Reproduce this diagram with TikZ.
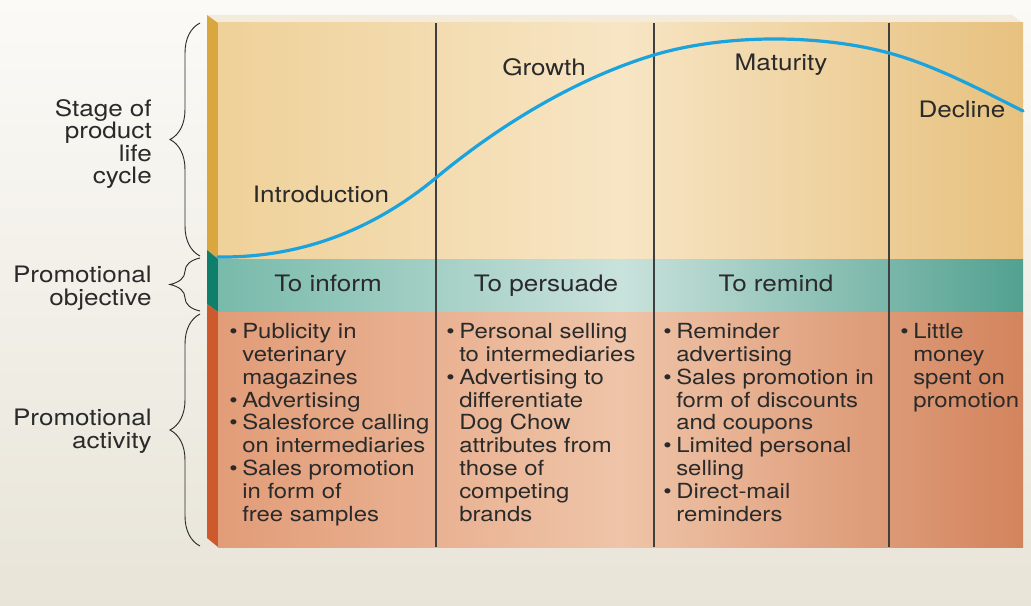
\documentclass[tikz,border=0pt]{standalone}
\usepackage{fontspec}
\setmainfont{TeX Gyre Heros}[FakeStretch=1.15]
\usetikzlibrary{decorations.pathreplacing}

\definecolor{bgtop}{HTML}{FBFAF7}
\definecolor{bgbot}{HTML}{E8E4D8}
\definecolor{lidc}{HTML}{F3ECDC}
% front colours: left, middle, right
\definecolor{stageL}{HTML}{EFD199}
\definecolor{stageM}{HTML}{F7E5C4}
\definecolor{stageR}{HTML}{E7C17F}
\definecolor{objL}{HTML}{78BAAB}
\definecolor{objM}{HTML}{C9E2DC}
\definecolor{objR}{HTML}{52A190}
\definecolor{actL}{HTML}{E29C78}
\definecolor{actM}{HTML}{EFC4A8}
\definecolor{actR}{HTML}{D3845D}
% side colours
\definecolor{stageS}{HTML}{D9A640}
\definecolor{objS}{HTML}{0F7F6C}
\definecolor{actS}{HTML}{CC5A2C}
\definecolor{plcblue}{HTML}{1AA3DC}
\definecolor{inkc}{HTML}{2A2A2A}

\newcommand{\bitem}{\makebox[9.75pt][l]{\textbullet}}
\newcommand{\bcont}{\hspace*{9.75pt}}

\tikzset{
  lbl/.style={anchor=base east, align=right, inner sep=0pt, text=inkc,
    font=\fontsize{17}{16.9}\selectfont},
  stage/.style={anchor=base, inner sep=0pt, text=inkc,
    font=\fontsize{17}{17}\selectfont},
  lst/.style={anchor=base west, align=left, inner sep=0pt, text=inkc,
    font=\fontsize{15.6}{17.1}\selectfont},
  brc/.style={decorate, decoration={brace, amplitude=22.5pt}, draw=inkc,
    line width=0.7pt},
  divider/.style={draw=inkc!90, line width=1.1pt},
}

\begin{document}
\begin{tikzpicture}[x=0.75pt, y=-0.75pt]
  \useasboundingbox (0,0) rectangle (1031,606);
  \shade[top color=bgtop, bottom color=bgbot] (0,0) rectangle (1031,606);

  % Top and left faces of the block
  \fill[lidc] (207,15) -- (1012,15) -- (1023,23) -- (218,23) -- cycle;
  \fill[stageS] (207,15) -- (218,23) -- (218,259) -- (207,250) -- cycle;
  \fill[objS] (207,250) -- (218,259) -- (218,312) -- (207,304) -- cycle;
  \fill[actS] (207,304) -- (218,312) -- (218,547) -- (207,538) -- cycle;

  % Front bands (middle colour last, or it gets reset)
  \shade[left color=stageL, right color=stageR, middle color=stageM] (218,23) rectangle (1023,259);
  \shade[left color=objL, right color=objR, middle color=objM] (218,259) rectangle (1023,312);
  \shade[left color=actL, right color=actR, middle color=actM] (218,312) rectangle (1023,547);

  % Column dividers
  \foreach \xd in {436,654,889}
    \draw[divider] (\xd,23) -- (\xd,547);

  % Life cycle curve
  \draw[plcblue, line width=2.4pt, line cap=round]
    (218,257) .. controls (305,258) and (377,227) .. (437,177)
              .. controls (507,119) and (584,76) .. (654,55)
              .. controls (724,34) and (819,34) .. (889,53)
              .. controls (934,65) and (983,91) .. (1023,111);

  % Row labels and braces (base = last line)
  \node[lbl] (stagelbl) at (152,184) {Stage of\\product\\life\\cycle};
  \node[lbl] (objlbl) at (152,305) {Promotional\\objective};
  \node[lbl] (actlbl) at (152,448) {Promotional\\activity};
  \draw[brc] (200,256) -- (200,23);
  \draw[brc] (200,311) -- (200,258);
  \draw[brc] (200,546) -- (200,314);

  % Stage names
  \node[stage] (intro) at (321,202) {Introduction};
  \node[stage] (growth) at (544,76) {Growth};
  \node[stage] (maturity) at (781,71) {Maturity};
  \node[stage] (decline) at (962,118) {Decline};

  % Objectives
  \node[stage] (inform) at (328,291) {To inform};
  \node[stage] (persuade) at (546,291) {To persuade};
  \node[stage] (remind) at (776,291) {To remind};

  % Activities
  \node[lst] (act1) at (229,521) {\bitem Publicity in\\\bcont veterinary\\\bcont magazines\\
    \bitem Advertising\\\bitem Salesforce calling\\\bcont on intermediaries\\
    \bitem Sales promotion\\\bcont in form of\\\bcont free samples};
  \node[lst] (act2) at (446,521) {\bitem Personal selling\\\bcont to intermediaries\\
    \bitem Advertising to\\\bcont differentiate\\\bcont Dog Chow\\\bcont attributes from\\
    \bcont those of\\\bcont competing\\\bcont brands};
  \node[lst] (act3) at (663,521) {\bitem Reminder\\\bcont advertising\\
    \bitem Sales promotion in\\\bcont form of discounts\\\bcont and coupons\\
    \bitem Limited personal\\\bcont selling\\\bitem Direct-mail\\\bcont reminders};
  \node[lst] (act4) at (900,407) {\bitem Little\\\bcont money\\\bcont spent on\\\bcont promotion};
\end{tikzpicture}
\end{document}
